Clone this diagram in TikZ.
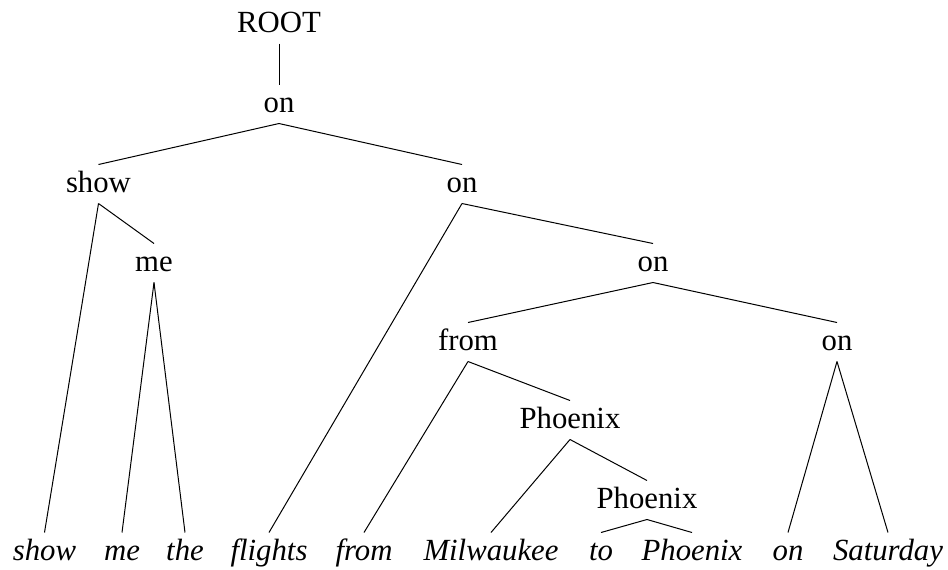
\documentclass[tikz,border=0pt]{standalone}
\usepackage{fontspec}
\setmainfont{Liberation Serif}
\usepackage{tikz}

\tikzset{
  depnode/.style={anchor=base,font=\fontsize{12.3}{14}\selectfont,text height=8pt,text depth=1.6pt,inner sep=2.8pt},
  wordnode/.style={depnode,font=\fontsize{12.3}{14}\selectfont\itshape},
  deplink/.style={draw=black,line width=0.4pt}
}

\begin{document}
\begin{tikzpicture}[x=0.4pt,y=-0.4pt]
\path[use as bounding box,fill=white] (0,0) rectangle (948,569);

\node[depnode] (root) at (279, 32) {ROOT};
\node[depnode] (on1) at (279, 112) {on};
\node[depnode] (show) at (98.5, 192) {show};
\node[depnode] (on2) at (462, 192) {on};
\node[depnode] (me) at (154, 271) {me};
\node[depnode] (on3) at (653, 271) {on};
\node[depnode] (from) at (468, 350) {from};
\node[depnode] (on4) at (837, 350) {on};
\node[depnode] (phx1) at (570, 428) {Phoenix};
\node[depnode] (phx2) at (647, 508) {Phoenix};

\node[wordnode] (w1) at (44.5, 560) {show};
\node[wordnode] (w2) at (122, 560) {me};
\node[wordnode] (w3) at (185, 560) {the};
\node[wordnode] (w4) at (269, 560) {flights};
\node[wordnode] (w5) at (364, 560) {from};
\node[wordnode] (w6) at (491, 560) {Milwaukee};
\node[wordnode] (w7) at (601, 560) {to};
\node[wordnode] (w8) at (692, 560) {Phoenix};
\node[wordnode] (w9) at (788, 560) {on};
\node[wordnode] (w10) at (888, 560) {Saturday};

\path[deplink] (root.south) -- (on1.north);
\path[deplink] (on1.south) -- (show.north);
\path[deplink] (on1.south) -- (on2.north);
\path[deplink] (show.south) -- (w1.north);
\path[deplink] (show.south) -- (me.north);
\path[deplink] (me.south) -- (w2.north);
\path[deplink] (me.south) -- (w3.north);
\path[deplink] (on2.south) -- (w4.north);
\path[deplink] (on2.south) -- (on3.north);
\path[deplink] (on3.south) -- (from.north);
\path[deplink] (on3.south) -- (on4.north);
\path[deplink] (from.south) -- (w5.north);
\path[deplink] (from.south) -- (phx1.north);
\path[deplink] (phx1.south) -- (w6.north);
\path[deplink] (phx1.south) -- (phx2.north);
\path[deplink] (phx2.south) -- (w7.north);
\path[deplink] (phx2.south) -- (w8.north);
\path[deplink] (on4.south) -- (w9.north);
\path[deplink] (on4.south) -- (w10.north);
\end{tikzpicture}
\end{document}
